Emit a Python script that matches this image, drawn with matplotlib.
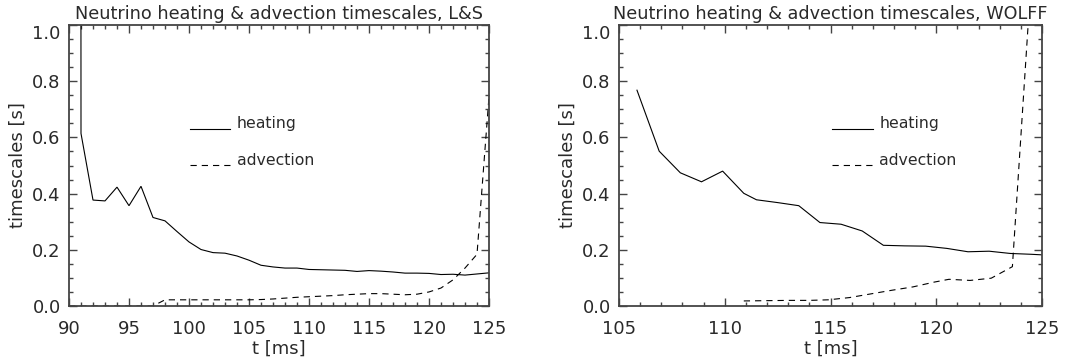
import matplotlib
matplotlib.use("Agg")
import matplotlib.pyplot as plt
from matplotlib.ticker import MultipleLocator, FuncFormatter

# ---- data ----
ls_heat_t = [90.98, 91, 92, 93, 94, 95, 96, 97, 98, 99, 100, 101, 102, 103, 104, 105,
             106, 107, 108, 109, 110, 111, 112, 113, 114, 115, 116, 117, 118, 119,
             120, 121, 122, 123, 124, 125]
ls_heat_v = [2.5, 0.614, 0.377, 0.374, 0.423, 0.357, 0.426, 0.315, 0.303, 0.265, 0.228,
             0.201, 0.190, 0.188, 0.178, 0.163, 0.145, 0.139, 0.135, 0.135, 0.130,
             0.129, 0.128, 0.127, 0.123, 0.126, 0.124, 0.121, 0.117, 0.117, 0.116,
             0.112, 0.113, 0.110, 0.114, 0.118]

ls_adv_t = [90, 91, 92, 93, 94, 95, 96, 97, 98, 99, 100, 101, 102, 103, 104, 105, 106,
            107, 108, 109, 110, 111, 112, 113, 114, 115, 116, 117, 118, 119, 120, 121,
            122, 123, 124, 125]
ls_adv_v = [0.0, 0.0, 0.0, 0.0, 0.0, 0.0, 0.0, 0.0, 0.022, 0.022, 0.022, 0.022, 0.022,
            0.022, 0.022, 0.022, 0.023, 0.025, 0.028, 0.031, 0.033, 0.035, 0.037,
            0.040, 0.042, 0.044, 0.044, 0.042, 0.040, 0.042, 0.050, 0.064, 0.093,
            0.135, 0.184, 0.745]

wo_heat_t = [105.85, 106.9, 107.9, 108.9, 109.9, 110.9, 111.5, 112.5, 113.5, 114.5,
             115.5, 116.5, 117.5, 118.5, 119.5, 120.5, 121.5, 122.5, 123.5, 124.5, 125.0]
wo_heat_v = [0.768, 0.551, 0.474, 0.442, 0.480, 0.401, 0.378, 0.368, 0.357, 0.297,
             0.291, 0.267, 0.216, 0.214, 0.213, 0.205, 0.193, 0.195, 0.187, 0.184, 0.182]

wo_adv_t = [110.9, 112, 113, 114, 114.9, 115.9, 116.9, 117.9, 118.9, 119.9, 120.6,
            121.6, 122.6, 123.6, 124.5]
wo_adv_v = [0.018, 0.019, 0.020, 0.020, 0.022, 0.030, 0.043, 0.056, 0.068, 0.085,
            0.095, 0.091, 0.099, 0.140, 1.18]

titles = ["Neutrino heating & advection timescales, L&S",
          "Neutrino heating & advection timescales, WOLFF"]
xlims = [(90, 125), (105, 125)]
legend_x = [(100.05, 103.4, 104.0), (115.05, 117.0, 117.3)]
legend_labels = ["heating", "advection"]
legend_y = [0.631, 0.501]
ytop_label = "1.0"

plt.rcParams['font.family'] = ['DejaVu Sans']
plt.rcParams['lines.scale_dashes'] = False

TXT = '#2a2a2a'
FRAME = '#444444'
DASH = (4.5, 3.6)
YPAD = 6

fig = plt.figure(figsize=(10.75, 3.62), dpi=100)
axes = [fig.add_axes([69/1075, 1-306/362, 420/1075, 281/362]),
        fig.add_axes([619/1075, 1-306/362, 423/1075, 281/362])]

data = [(ls_heat_t, ls_heat_v, ls_adv_t, ls_adv_v),
        (wo_heat_t, wo_heat_v, wo_adv_t, wo_adv_v)]


def yfmt(v, pos):
    if abs(v - 1.0) < 1e-9:
        return ''
    return '%.1f' % v


for i, ax in enumerate(axes):
    ht, hv, at, av = data[i]
    ax.plot(ht, hv, color='black', lw=0.8, solid_joinstyle='miter')
    ax.plot(at, av, color='black', lw=0.8, dashes=DASH)
    x0, x1, xt = legend_x[i]
    ax.plot([x0, x1], [legend_y[0]]*2, color='black', lw=0.8)
    ax.plot([x0, x1], [legend_y[1]]*2, color='black', lw=0.8, dashes=DASH)
    for lab, yy in zip(legend_labels, legend_y):
        ax.text(xt, yy + 0.002, lab, fontsize=11.3, color=TXT, va='baseline', ha='left')
    ax.set_xlim(*xlims[i])
    ax.set_ylim(0, 1.0)
    ax.xaxis.set_major_locator(MultipleLocator(5))
    ax.xaxis.set_minor_locator(MultipleLocator(1))
    ax.yaxis.set_major_locator(MultipleLocator(0.2))
    ax.yaxis.set_minor_locator(MultipleLocator(0.05))
    ax.yaxis.set_major_formatter(FuncFormatter(yfmt))
    ax.tick_params(which='both', direction='in', top=True, right=True,
                   color=FRAME, width=1.0, labelcolor=TXT, labelsize=13)
    ax.tick_params(which='major', length=6)
    ax.tick_params(which='minor', length=3)
    ax.tick_params(axis='x', which='major', pad=10)
    ax.tick_params(axis='y', which='major', pad=YPAD)
    for sp in ax.spines.values():
        sp.set_color(FRAME)
        sp.set_linewidth(1.3)
    ax.annotate(ytop_label, xy=(0, 1), xycoords='axes fraction',
                xytext=(-YPAD, -5), textcoords='offset points',
                ha='right', va='center_baseline', fontsize=13, color=TXT)
    ax.set_title(titles[i], fontsize=12.7, color=TXT, pad=4)
    ax.set_xlabel('t [ms]', fontsize=13, color=TXT, labelpad=1)
    ax.set_ylabel('timescales [s]', fontsize=13, color=TXT, labelpad=4)

fig.savefig('out.png', dpi=100)
